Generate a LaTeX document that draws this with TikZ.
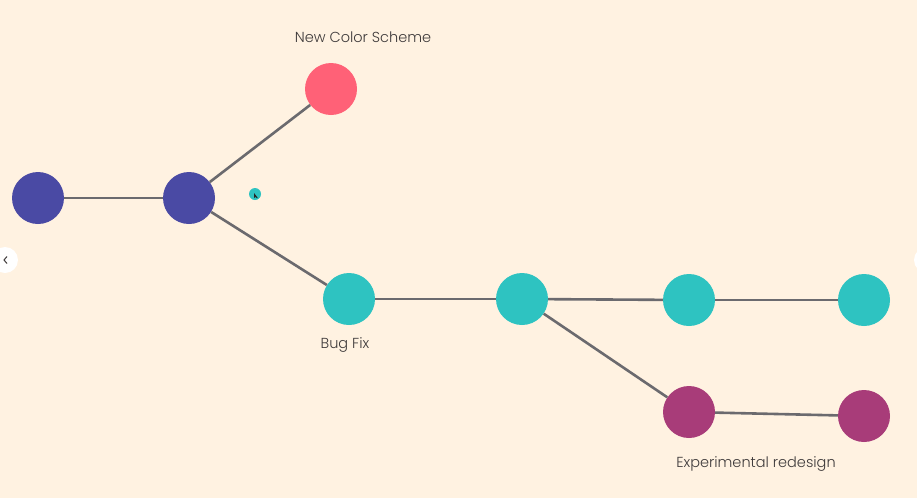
\documentclass[tikz,border=0pt]{standalone}
\usepackage{fontspec}
\setmainfont{Poppins}[UprightFont=* Light]
\definecolor{bg}{HTML}{FFF2E1}
\definecolor{indigo}{HTML}{4A4AA4}
\definecolor{coral}{HTML}{FF6177}
\definecolor{teal}{HTML}{2EC3C1}
\definecolor{plum}{HTML}{A83C79}
\definecolor{edge}{HTML}{6B6A6E}
\definecolor{txt}{HTML}{3F3B3B}
\begin{document}
\begin{tikzpicture}[x=1pt,y=-1pt,
  commit/.style={circle,minimum size=52pt,inner sep=0pt},
  link/.style={draw=edge,line width=2.6pt},
  lab/.style={text=txt,font=\fontsize{14.5}{16}\selectfont}]
\fill[bg] (0,0) rectangle (917,498);
\useasboundingbox (0,0) rectangle (917,498);
\node[commit,fill=indigo] (a) at (38,198) {};
\node[commit,fill=indigo] (b) at (189,198) {};
\node[commit,fill=coral] (r) at (331,89) {};
\node[commit,fill=teal] (c1) at (349,299) {};
\node[commit,fill=teal] (c2) at (522,299) {};
\node[commit,fill=teal] (c3) at (689,300) {};
\node[commit,fill=teal] (c4) at (864,300) {};
\node[commit,fill=plum] (m1) at (689,412) {};
\node[commit,fill=plum] (m2) at (864,416) {};
\path[link] (a) -- (b);
\path[link] (b) -- (r);
\path[link] (b) -- (c1);
\path[link] (c1) -- (c2);
\path[link] (c2) -- (c3);
\path[link] (c3) -- (c4);
\path[link] (c2) -- (m1);
\path[link] (m1) -- (m2);
\node[lab] (l1) at (363,37) {New Color Scheme};
\node[lab] (l2) at (345,345) {Bug Fix};
\node[lab] (l3) at (756,464) {Experimental redesign};
\node[circle,fill=teal,minimum size=12pt,inner sep=0pt] (dot) at (255,194) {};
\fill[black!85] (254,193) -- (254,198) -- (255.5,197) -- (257,198.5) -- (257.5,197.5) -- cycle;
\node[circle,fill=white,minimum size=26pt,inner sep=0pt] (prev) at (5,260) {};
\draw[txt,line width=1pt] (7,256.5) -- (4,260) -- (7,263.5);
\node[circle,fill=white,minimum size=26pt,inner sep=0pt] (next) at (927,260) {};
\end{tikzpicture}
\end{document}
